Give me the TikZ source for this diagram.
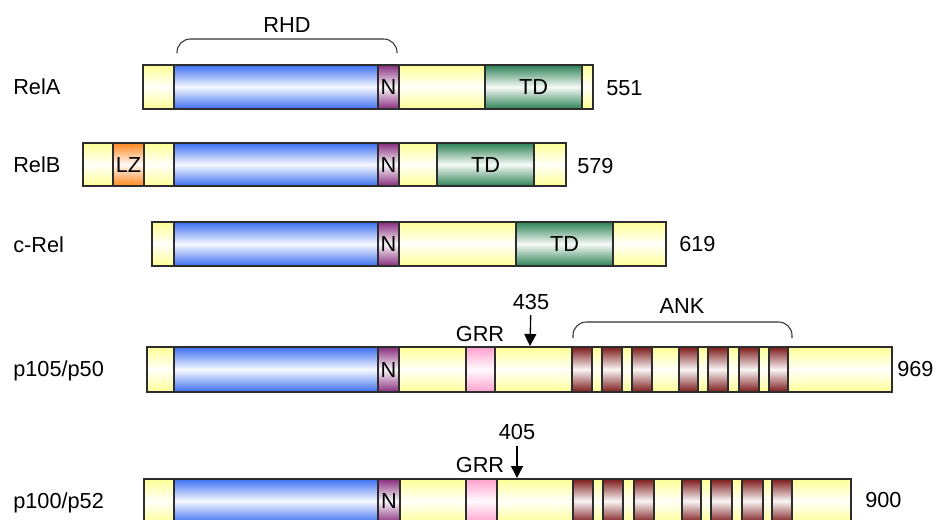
\documentclass[tikz,border=0pt]{standalone}
\usepackage{fontspec}
\setmainfont{Liberation Sans}
\usetikzlibrary{arrows.meta}
\definecolor{yel}{RGB}{255,255,150}
\definecolor{blu}{RGB}{60,110,240}
\definecolor{pur}{RGB}{135,45,125}
\definecolor{grn}{RGB}{45,130,85}
\definecolor{ank}{RGB}{125,25,25}
\definecolor{orn}{RGB}{255,135,30}
\definecolor{pnk}{RGB}{255,160,205}
\definecolor{edge}{RGB}{45,45,45}
\tikzset{
  box/.style={draw=edge, line width=1pt, top color=#1, bottom color=#1, middle color=#1!4!white},
  lab/.style={inner sep=0pt, font=\fontsize{16.3}{19}\selectfont},
  brace/.style={draw=black!80, line width=0.8pt, rounded corners=10pt},
  cut/.style={-{Triangle[width=9pt,length=9pt]}, line width=1pt, shorten <=4pt},
}
\begin{document}
\begin{tikzpicture}[x=0.75pt,y=-0.75pt]
\clip (0,0) rectangle (938,519);
% ---------- RelA ----------
\path[box=yel] (143,65) rectangle (593,109);
\path[box=blu] (174,65) rectangle (378,109);
\path[box=pur] (378,65) rectangle (399,109);
\path[box=grn] (485,65) rectangle (582,109);
\node[lab,anchor=base] (relaN) at (388.5,94.7) {N};
\node[lab,anchor=base] (relaTD) at (533.5,94.7) {TD};
\node[lab,anchor=base west] (relaL) at (13,94.7) {RelA};
\node[lab,anchor=base west] (relaE) at (606,95.7) {551};
\node[lab,anchor=base] (rhd) at (287,32.5) {RHD};
\draw[brace] (177,53) -- (177,39) -- (397,39) -- (397,53);
% ---------- RelB ----------
\path[box=yel] (83,143) rectangle (566,186);
\path[box=orn] (113,143) rectangle (144,186);
\path[box=blu] (174,143) rectangle (378,186);
\path[box=pur] (378,143) rectangle (399,186);
\path[box=grn] (437,143) rectangle (534,186);
\node[lab,anchor=base] (relbLZ) at (128.5,172.2) {LZ};
\node[lab,anchor=base] (relbN) at (388.5,172.2) {N};
\node[lab,anchor=base] (relbTD) at (485.5,172.2) {TD};
\node[lab,anchor=base west] (relbL) at (13,172.7) {RelB};
\node[lab,anchor=base west] (relbE) at (577,173.7) {579};
% ---------- c-Rel ----------
\path[box=yel] (152,222) rectangle (666,266);
\path[box=blu] (174,222) rectangle (378,266);
\path[box=pur] (378,222) rectangle (399,266);
\path[box=grn] (516,222) rectangle (613,266);
\node[lab,anchor=base] (crelN) at (388.5,251.7) {N};
\node[lab,anchor=base] (crelTD) at (564.5,251.7) {TD};
\node[lab,anchor=base west] (crelL) at (13,252.7) {c-Rel};
\node[lab,anchor=base west] (crelE) at (679,251.7) {619};
% ---------- p105/p50 ----------
\path[box=yel] (147,347) rectangle (892,392);
\path[box=blu] (174,347) rectangle (378,392);
\path[box=pur] (378,347) rectangle (399,392);
\path[box=pnk] (466,347) rectangle (495,392);
\foreach \a/\b in {572/592,602/622,632/652,679/698,708/728,739/759,769/788}
  \path[box=ank] (\a,347) rectangle (\b,392);
\node[lab,anchor=base] (p105N) at (388.5,377.2) {N};
\node[lab,anchor=base west] (p105L) at (13,376.7) {p105/p50};
\node[lab,anchor=base west] (p105E) at (897,376.7) {969};
\node[lab,anchor=base] (p105G) at (480,341.7) {GRR};
\node[lab,anchor=base] (ank) at (682,313.7) {ANK};
\draw[brace] (573,338) -- (573,322) -- (792,322) -- (792,338);
\node[lab,anchor=base] (l435) at (531,309.2) {435};
\coordinate (t435) at (530,346);
\draw[cut] (l435) -- (t435);
% ---------- p100/p52 ----------
\path[box=yel] (144,479) rectangle (851,523);
\path[box=blu] (174,479) rectangle (378,523);
\path[box=pur] (378,479) rectangle (400,523);
\path[box=pnk] (466,479) rectangle (497,523);
\foreach \a/\b in {573/593,603/623,634/654,682/701,711/732,742/763,772/792}
  \path[box=ank] (\a,479) rectangle (\b,523);
\node[lab,anchor=base] (p100N) at (389,508.7) {N};
\node[lab,anchor=base west] (p100L) at (13,508.2) {p100/p52};
\node[lab,anchor=base west] (p100E) at (865,507.7) {900};
\node[lab,anchor=base] (p100G) at (480,472.7) {GRR};
\node[lab,anchor=base] (l405) at (517,439.7) {405};
\coordinate (t405) at (517,478);
\draw[cut] (l405) -- (t405);
\end{tikzpicture}
\end{document}
